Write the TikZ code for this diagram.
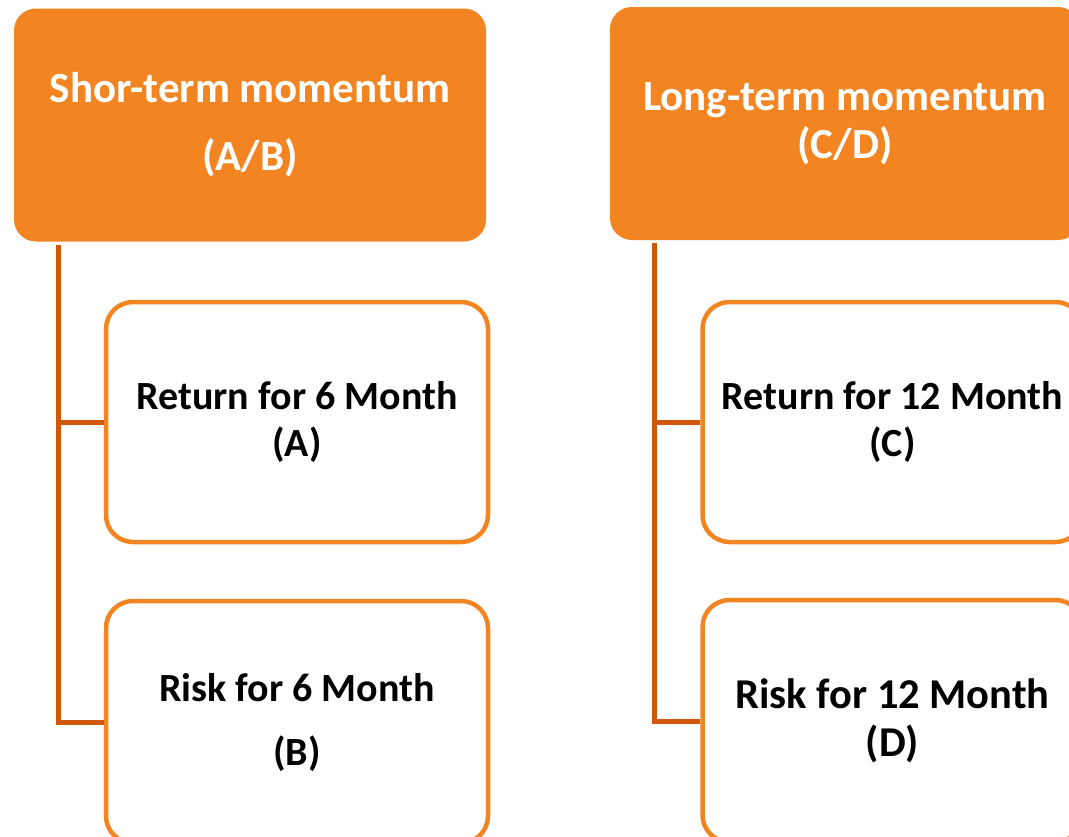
\documentclass[tikz,border=0pt]{standalone}
\usepackage{fontspec}
\setmainfont{Carlito}
\definecolor{hdrorange}{RGB}{242,133,34}
\definecolor{linkorange}{RGB}{206,88,8}
\tikzset{
  hdr/.style={fill=hdrorange, rounded corners=22pt, minimum width=472pt, minimum height=233pt,
    inner sep=0pt, align=center, text=white, font=\fontsize{43}{48}\selectfont\bfseries},
  leaf/.style={draw=hdrorange, line width=4.5pt, fill=white, rounded corners=27pt,
    minimum width=382pt, minimum height=240pt, inner sep=0pt, align=center,
    font=\fontsize{40}{47}\selectfont\bfseries},
  link/.style={draw=linkorange, line width=5pt}
}
\begin{document}
\begin{tikzpicture}[x=1pt, y=-1pt]
\useasboundingbox (0,0) rectangle (1069,836);
\clip (0,0) rectangle (1069,836);
\fill[white] (0,0) rectangle (1069,836);
% short-term
\node[hdr] (shortM) at (250,125) {Shor-term momentum\\[20pt](A/B)};
\node[leaf] (retA) at (297,422) {Return for 6 Month\\(A)};
\node[leaf, minimum height=242pt] (riskB) at (297,722) {Risk for 6 Month\\[17pt](B)};
% long-term
\node[hdr, minimum width=470pt] (longM) at (845,123.5) {Long-term momentum\\(C/D)};
\node[leaf, minimum width=380pt] (retC) at (892.5,422) {Return for 12 Month\\(C)};
\node[leaf, minimum width=380pt, minimum height=242pt, font=\fontsize{42.5}{48}\selectfont\bfseries] (riskD) at (892.5,721) {Risk for 12 Month\\(D)};
% connectors
\coordinate (trunkA) at ([xshift=45pt, yshift=-3pt]shortM.south west);
\coordinate (trunkC) at ([xshift=45pt, yshift=-3pt]longM.south west);
\draw[link] (trunkA) |- (retA.west);
\draw[link] (trunkA) |- (riskB.west);
\draw[link] (trunkC) |- (retC.west);
\draw[link] (trunkC) |- (riskD.west);
\end{tikzpicture}
\end{document}
